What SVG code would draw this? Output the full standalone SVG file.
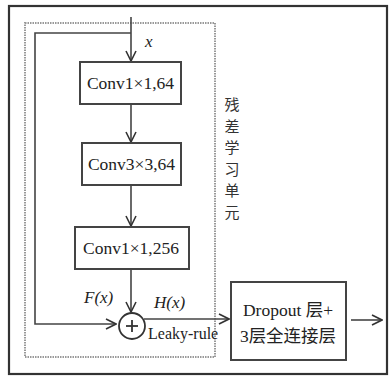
<svg xmlns="http://www.w3.org/2000/svg" width="390" height="378" viewBox="0 0 390 378">
<defs>
<marker id="ah" viewBox="0 0 12 12" refX="11" refY="6" markerWidth="12" markerHeight="12" markerUnits="userSpaceOnUse" orient="auto">
<path d="M1,1 L11,6 L1,11" fill="none" stroke="#333" stroke-width="1.6"/>
</marker>
<style>
.box{fill:#fff;stroke:#444;stroke-width:2}
.ln{fill:none;stroke:#444;stroke-width:1.6}
.t{font-family:'Liberation Serif','Times New Roman','DejaVu Serif','Noto Sans CJK SC',serif;fill:#222;font-size:17.5px}
.i{font-family:'Liberation Serif','Times New Roman','DejaVu Serif',serif;font-style:italic;fill:#222;font-size:17px}
.c{font-family:'Noto Sans CJK SC',sans-serif;fill:#333;font-size:15px}
</style>
</defs>
<rect x="0" y="0" width="390" height="378" fill="#fff"/>
<rect id="frame" x="9" y="6" width="378" height="368" fill="none" stroke="#333" stroke-width="2.2"/>
<rect id="unit" x="25" y="23" width="190" height="334" fill="none" stroke="#999" stroke-width="2" stroke-dasharray="1.5 1"/>
<g id="connectors">
<line class="ln" x1="131" y1="17" x2="131" y2="61" marker-end="url(#ah)"/>
<polyline class="ln" points="131,33 35,33 35,324 116,324" marker-end="url(#ah)"/>
<line class="ln" x1="131" y1="104" x2="131" y2="142" marker-end="url(#ah)"/>
<line class="ln" x1="131" y1="185" x2="131" y2="226" marker-end="url(#ah)"/>
<line class="ln" x1="131" y1="269" x2="131" y2="312" marker-end="url(#ah)"/>
<polyline class="ln" points="144,319 229,319" marker-end="url(#ah)"/>
<line class="ln" x1="351" y1="320" x2="382" y2="320" marker-end="url(#ah)"/>
</g>
<g id="conv1">
<rect class="box" x="80" y="62" width="101" height="42"/>
<text class="t" x="130.5" y="89" text-anchor="middle">Conv1×1,64</text>
</g>
<g id="conv2">
<rect class="box" x="82" y="143" width="99" height="42"/>
<text class="t" x="131.5" y="170" text-anchor="middle">Conv3×3,64</text>
</g>
<g id="conv3">
<rect class="box" x="75" y="227" width="114" height="42"/>
<text class="t" x="131" y="254" text-anchor="middle">Conv1×1,256</text>
</g>
<g id="add">
<circle cx="132" cy="326" r="13" fill="#fff" stroke="#333" stroke-width="1.8"/>
<line x1="126" y1="326" x2="138" y2="326" stroke="#333" stroke-width="1.8"/>
<line x1="132" y1="320" x2="132" y2="332" stroke="#333" stroke-width="1.8"/>
</g>
<g id="dense">
<rect class="box" x="231" y="282" width="115" height="78"/>
<text class="t" x="288" y="316" text-anchor="middle">Dropout 层+</text>
<text class="t" x="288" y="342" text-anchor="middle">3层全连接层</text>
</g>
<g id="labels">
<text class="i" x="145" y="47">x</text>
<text class="i" x="84" y="303">F(x)</text>
<text class="i" x="154" y="308">H(x)</text>
<text class="t" x="148" y="339" style="font-size:16px">Leaky-rule</text>
<g class="c" text-anchor="middle">
<text x="232" y="110">残</text>
<text x="232" y="132">差</text>
<text x="232" y="153">学</text>
<text x="232" y="175">习</text>
<text x="232" y="196">单</text>
<text x="232" y="218">元</text>
</g>
</g>
</svg>
